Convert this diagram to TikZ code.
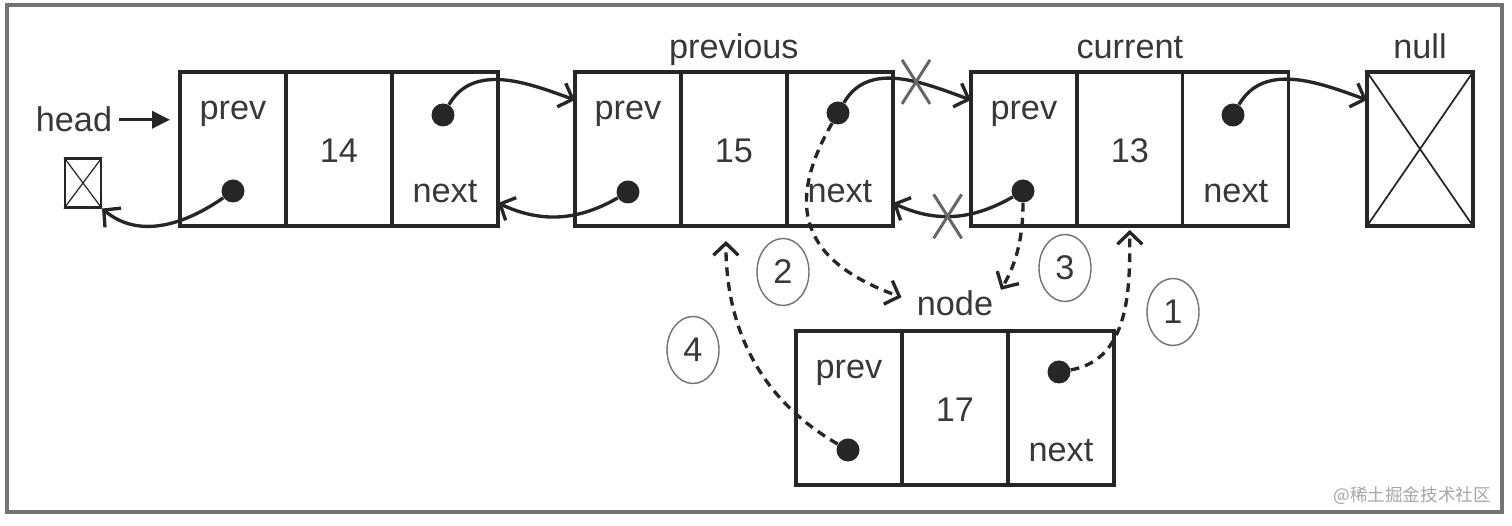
\documentclass[tikz,border=0pt]{standalone}
\usepackage{fontspec}
\setmainfont{Liberation Sans}
\newfontfamily\cjkfont{Noto Sans CJK SC}
\usepackage{tikz}
\usetikzlibrary{positioning,arrows.meta,shapes.geometric,shapes.misc}

\definecolor{ink}{HTML}{262626}
\definecolor{txtgray}{HTML}{383838}

\begin{document}
\begin{tikzpicture}[x=0.02cm, y=0.02cm,
		cell/.style={draw=ink, line width=1.9pt, minimum width=2.12cm, minimum height=3.08cm, inner sep=0pt, outer sep=0pt}, % one field of a list node
		txt/.style={text=txtgray, font=\fontsize{19.5}{23}\selectfont, inner sep=0pt, anchor=base},
		dot/.style={circle, fill=ink, inner sep=0pt, minimum size=0.46cm},
		link/.style={draw=ink, line width=1.9pt, -{Straight Barb[length=0.24cm, width=0.5cm]}}, % old pointers
		newlink/.style={link, dash pattern=on 5pt off 3.5pt},                                    % new pointers
		headlink/.style={draw=ink, line width=2pt, -{Triangle[length=0.36cm, width=0.34cm]}, shorten <=0.14cm, shorten >=0.2cm},
		stepnum/.style={ellipse, draw=black!55, line width=0.8pt, minimum width=1.04cm, minimum height=1.34cm, inner sep=0pt, text=txtgray, font=\fontsize{19.5}{23}\selectfont},
		cut/.style={cross out, draw=black!60, line width=1.7pt, minimum width=0.5cm, minimum height=0.82cm, inner sep=0pt}
		]
		\useasboundingbox (0,0) rectangle (1512,526);
		\draw[black!55, line width=1.8pt] (7,14) rectangle (1502,521);
		
		% node 14
		\node[cell] (a1) at (233,377) {};
		\node[cell, right=0pt of a1] (a2) {};
		\node[cell, right=0pt of a2] (a3) {};
		% node 15 (previous)
		\node[cell, right=1.54cm of a3] (b1) {};
		\node[cell, right=0pt of b1] (b2) {};
		\node[cell, right=0pt of b2] (b3) {};
		% node 13 (current)
		\node[cell, right=1.56cm of b3] (c1) {};
		\node[cell, right=0pt of c1] (c2) {};
		\node[cell, right=0pt of c2] (c3) {};
		% null
		\node[cell] (nl) at (1420,377) {};
		\draw[ink, line width=1pt] (nl.north west) -- (nl.south east) (nl.north east) -- (nl.south west);
		% new node 17
		\node[cell] (n1) at (849,118) {};
		\node[cell, right=0pt of n1] (n2) {};
		\node[cell, right=0pt of n2] (n3) {};
		
		\node[txt] at ([yshift=-0.96cm]a1.north) {prev};
		\node[txt] at ([yshift=-1.82cm]a2.north) {14};
		\node[txt] at ([yshift=-2.62cm]a3.north) {next};
		\node[txt] at ([yshift=-0.96cm]b1.north) {prev};
		\node[txt] at ([yshift=-1.82cm]b2.north) {15};
		\node[txt] at ([yshift=-2.62cm]b3.north) {next};
		\node[txt] at ([yshift=-0.96cm]c1.north) {prev};
		\node[txt] at ([yshift=-1.82cm]c2.north) {13};
		\node[txt] at ([yshift=-2.62cm]c3.north) {next};
		\node[txt] at ([yshift=-0.96cm]n1.north) {prev};
		\node[txt] at ([yshift=-1.82cm]n2.north) {17};
		\node[txt] at ([yshift=-2.62cm]n3.north) {next};
		
		\node[txt] (lprev) at ([yshift=0.28cm]b2.north) {previous};
		\node[txt] (lcur) at ([yshift=0.28cm]c2.north) {current};
		\node[txt] (lnull) at ([yshift=0.28cm]nl.north) {null};
		\node[txt] (lnode) at ([yshift=0.32cm]n2.north) {node};
		\node[txt] (head) at (74,394) {head};
		\node[draw=ink, line width=1.2pt, minimum width=0.72cm, minimum height=0.98cm, inner sep=0pt] (hnull) at (83,343) {};
		\draw[ink, line width=0.7pt] (hnull.north west) -- (hnull.south east) (hnull.north east) -- (hnull.south west);
		
		% pointers
		\node[dot] (a1p) at (233,335) {};
		\node[dot] (a3n) at (443,411) {};
		\node[dot] (b1p) at (628,334) {};
		\node[dot] (b3n) at (838,413) {};
		\node[dot] (c1p) at (1023,335) {};
		\node[dot] (c3n) at (1233,411) {};
		\node[dot] (n1p) at (848,76) {};
		\node[dot] (n3n) at (1059,154) {};
		
		\draw[headlink] (head.east) -- (head.east -| a1.west);
		\draw[link] (a1p) to[out=-145, in=-40] (hnull.south east);
		\draw[link] (a3n) to[out=60, in=160] ([yshift=-0.56cm]b1.north west);
		\draw[link] (b1p) to[out=-150, in=-25] ([yshift=0.46cm]a3.south east);
		\draw[link] (b3n) to[out=60, in=160] node[cut, pos=0.62] {} ([yshift=-0.56cm]c1.north west);
		\draw[link] (c1p) to[out=-150, in=-25] node[cut, pos=0.55] {} ([yshift=0.46cm]b3.south east);
		\draw[link] (c3n) to[out=60, in=160] ([yshift=-0.56cm]nl.north west);
		
		% insertion steps
		\draw[newlink, shorten >=0.08cm] (n3n) to[out=10, in=-90] (c2.south);
		\draw[newlink, shorten >=0.32cm] (b3n) to[out=240, in=160, looseness=1.4] (lnode.west);
		\draw[newlink, shorten >=0.3cm] (c1p) to[out=-90, in=60] (lnode.east);
		\draw[newlink, shorten >=0.3cm] (n1p) to[out=150, in=-90] ([xshift=-0.16cm]b2.south);
		
		\node[stepnum] (s1) at (1173,214) {1};
		\node[stepnum] (s2) at (783,254) {2};
		\node[stepnum] (s3) at (1065,258) {3};
		\node[stepnum] (s4) at (693,176) {4};
		
		\node[text=black!35, font=\cjkfont\fontsize{10}{12}\selectfont, anchor=east] (wm) at (1497,30) {@稀土掘金技术社区};
	\end{tikzpicture}
\end{document}
